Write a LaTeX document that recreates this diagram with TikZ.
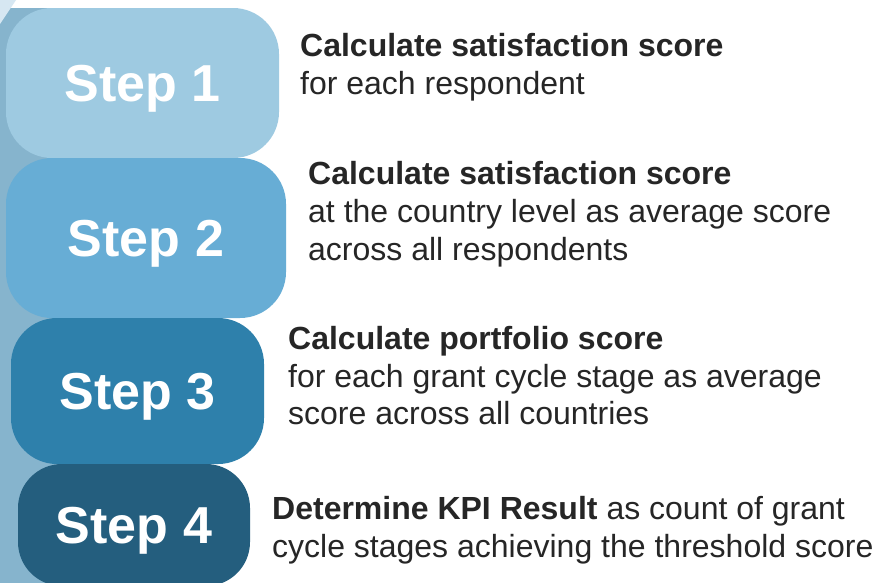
\documentclass[tikz,border=0pt]{standalone}
\usepackage{fontspec}
\setmainfont{Liberation Sans}
\definecolor{cA}{HTML}{9ECAE1}
\definecolor{cB}{HTML}{67ADD5}
\definecolor{cC}{HTML}{2E80AB}
\definecolor{cD}{HTML}{245E7E}
\definecolor{barc}{HTML}{86B4CD}
\definecolor{palec}{HTML}{D6E7F2}
\definecolor{txt}{HTML}{262626}
\begin{document}
\begin{tikzpicture}[x=1pt,y=-1pt,
  stepbox/.style={rectangle, rounded corners=46pt, inner sep=0pt, text=white,
    font=\fontsize{52}{60}\selectfont\bfseries, text height=37.2pt, text depth=0pt},
  desc/.style={anchor=base west, inner sep=0pt, text=txt, font=\fontsize{32}{37.5}\selectfont}]
\useasboundingbox (0,0) rectangle (874,582);
\clip (0,0) rectangle (874,582);
\fill[white] (0,0) rectangle (874,582);
% left bar
\fill[barc] (0,8) rectangle (80,600);
\fill[palec] (0,0) -- (16,0) -- (0,24) -- cycle;
% boxes
\node[stepbox, fill=cA, minimum width=273pt, minimum height=150pt] (b1) at (142.5,83) {Step 1};
\node[stepbox, fill=cB, minimum width=280pt, minimum height=160pt] (b2) at (146,238) {Step 2};
\node[stepbox, fill=cC, minimum width=253pt, minimum height=146pt] (b3) at (137.5,391) {Step 3};
\node[stepbox, fill=cD, minimum width=232pt, minimum height=122pt, rounded corners=44pt] (b4) at (134,525) {Step 4};
% descriptions
\node[desc] (t1a) at (300,56.5) {\textbf{Calculate satisfaction score}};
\node[desc] (t1b) at (300,94) {for each respondent};
\node[desc] (t2a) at (308,184.5) {\textbf{Calculate satisfaction score}};
\node[desc] (t2b) at (308,222.5) {at the country level as average score};
\node[desc] (t2c) at (308,260) {across all respondents};
\node[desc] (t3a) at (288,349.5) {\textbf{Calculate portfolio score}};
\node[desc] (t3b) at (288,387) {for each grant cycle stage as average};
\node[desc] (t3c) at (288,424.5) {score across all countries};
\node[desc] (t4a) at (272,519.5) {\textbf{Determine KPI Result} as count of grant};
\node[desc] (t4b) at (272,557) {cycle stages achieving the threshold score};
\end{tikzpicture}
\end{document}
